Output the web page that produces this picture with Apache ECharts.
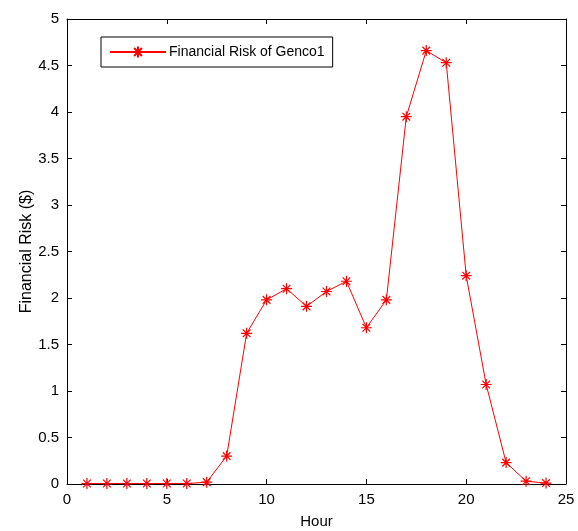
<!DOCTYPE html>
<html>
<head>
<meta charset="utf-8">
<script src="https://cdn.jsdelivr.net/npm/echarts@6/dist/echarts.min.js"></script>
<style>
    html, body { margin: 0; padding: 0; background: #fff; }
    #chart { width: 578px; height: 531px; }
</style>
</head>
<body>
<div id="chart"></div>
<script>
// data
var hours = [1, 2, 3, 4, 5, 6, 7, 8, 9, 10, 11, 12, 13, 14, 15, 16, 17, 18, 19, 20, 21, 22, 23, 24];
var risk = [0.005, 0.005, 0.005, 0.005, 0.005, 0.005, 0.02, 0.30, 1.62, 1.98, 2.10, 1.91, 2.07, 2.18, 1.68, 1.98, 3.95, 4.66, 4.53, 2.24, 1.07, 0.23, 0.03, 0.01];
var seriesName = 'Financial Risk of Genco1';

var fontFam = '"Liberation Sans", Arial, sans-serif';
var starPath = 'path://M0,-10L0,10M-10,0L10,0M-7,-7L7,7M-7,7L7,-7';

window.onload = function () {
    var myChart = echarts.init(document.getElementById('chart'));
    var pts = hours.map(function (h, i) { return [h, risk[i]]; });

    // matlab style box: ticks pointing in on all four sides
    function axisCommon() {
        return {
            min: 0,
            axisLine: { show: true, onZero: false, lineStyle: { color: '#000', width: 1 } },
            axisTick: { show: true, inside: true, length: 5, lineStyle: { color: '#000' } },
            splitLine: { show: false }
        };
    }

    var option = {
        animation: false,
        backgroundColor: '#fff',
        grid: { left: 67, right: 12, top: 19, bottom: 47, containLabel: false, outerBoundsMode: 'none' },
        legend: {
            left: 101,
            top: 37,
            data: [seriesName],
            itemWidth: 56,
            itemHeight: 14,
            itemGap: 4,
            padding: [8, 8, 8, 8],
            borderColor: '#000',
            borderWidth: 1,
            backgroundColor: '#fff',
            textStyle: { fontFamily: fontFam, fontSize: 14, color: '#000', padding: [0, 0, 0, -2] }
        },
        xAxis: [
            Object.assign(axisCommon(), {
                type: 'value', max: 25, interval: 5,
                name: 'Hour', nameLocation: 'middle', nameGap: 30,
                nameTextStyle: { fontFamily: fontFam, fontSize: 15, color: '#000' },
                axisLabel: { fontFamily: fontFam, fontSize: 15, color: '#000', margin: 8 }
            }),
            Object.assign(axisCommon(), {
                type: 'value', max: 25, interval: 5, position: 'top',
                axisLabel: { show: false }
            })
        ],
        yAxis: [
            Object.assign(axisCommon(), {
                type: 'value', max: 5, interval: 0.5,
                name: 'Financial Risk ($)', nameLocation: 'middle', nameGap: 32,
                nameMoveOverlap: false,
                nameTextStyle: { fontFamily: fontFam, fontSize: 16, color: '#000' },
                axisLabel: { fontFamily: fontFam, fontSize: 15, color: '#000', margin: 8 }
            }),
            Object.assign(axisCommon(), {
                type: 'value', max: 5, interval: 0.5, position: 'right',
                axisLabel: { show: false }
            })
        ],
        series: [{
            name: seriesName,
            type: 'line',
            data: pts,
            symbol: starPath,
            symbolSize: 11,
            showAllSymbol: true,
            lineStyle: { color: '#ff0000', width: 1 },
            itemStyle: { color: '#ff0000', borderColor: '#ff0000', borderWidth: 1.2 }
        }]
    };
    myChart.setOption(option);
};
</script>
</body>
</html>
